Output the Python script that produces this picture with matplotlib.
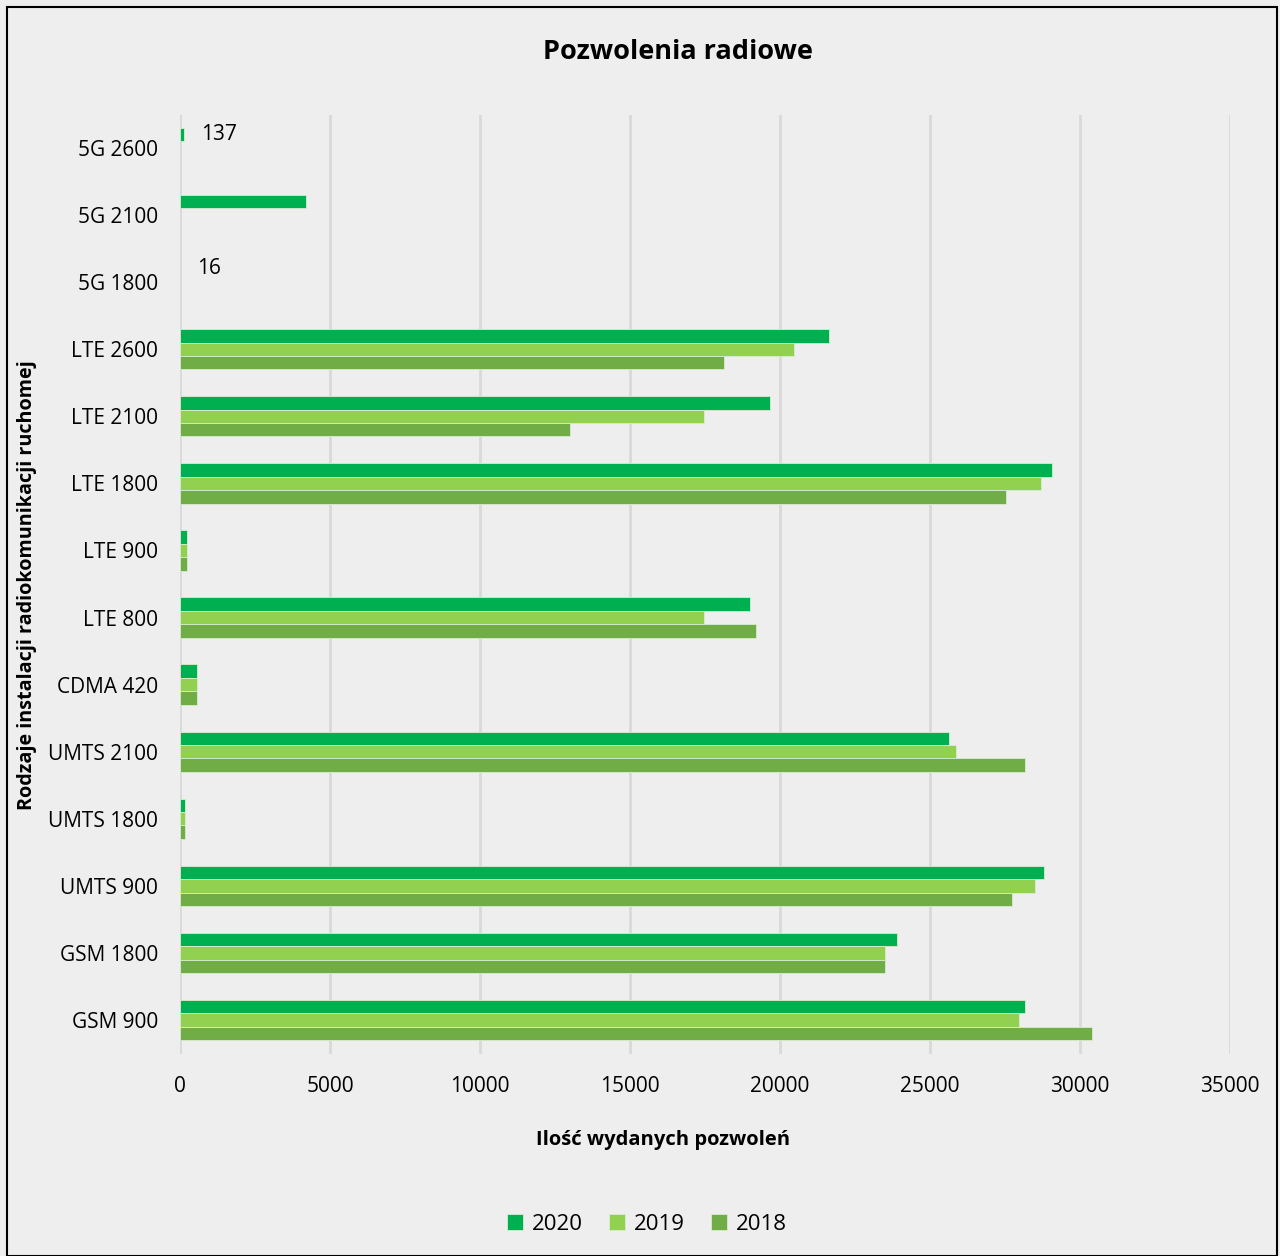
import numpy as np
import matplotlib.pyplot as plt
from matplotlib.patches import Rectangle

categories = ["GSM 900", "GSM 1800", "UMTS 900", "UMTS 1800", "UMTS 2100", "CDMA 420",
              "LTE 800", "LTE 900", "LTE 1800", "LTE 2100", "LTE 2600",
              "5G 1800", "5G 2100", "5G 2600"]
years = ["2020", "2019", "2018"]
vals_2020 = [28150, 23900, 28800, 170, 25630, 570, 19000, 240, 29060, 19670, 21640, 16, 4200, 137]
vals_2019 = [27970, 23500, 28500, 170, 25870, 570, 17480, 240, 28700, 17480, 20470, None, None, None]
vals_2018 = [30400, 23500, 27730, 170, 28160, 570, 19200, 240, 27540, 13000, 18140, None, None, None]
labels_2020 = {"5G 2600": "137", "5G 1800": "16"}

colors = ["#00B050", "#92D050", "#70AD47"]
bg = "#EEEEEE"
font = "Open Sans"
plt.rcParams["font.family"] = [font, "DejaVu Sans"]

fig = plt.figure(figsize=(12.8, 12.56), dpi=100, facecolor=bg)
fig.patches.append(Rectangle((0.0055, 0.0), 0.9925, 0.9945, transform=fig.transFigure,
                             fill=False, edgecolor="black", linewidth=1.5))
ax = fig.add_axes([180 / 1280, 1 - 1053.5 / 1256, 1050 / 1280, 939 / 1256])
ax.set_facecolor(bg)

y = np.arange(len(categories))
h = 0.2
series = [vals_2020, vals_2019, vals_2018]
for i, (vals, col, yr) in enumerate(zip(series, colors, years)):
    offs = (1 - i) * h
    v = np.array([np.nan if x is None else x for x in vals], dtype=float)
    # bars with tiny values (like 16) stay invisible, as in the source
    ew = np.where(v > 50, 0.6, 0.0)
    ax.barh(y + offs, v, height=h, color=col, label=yr,
            edgecolor="#d8ecd0", linewidth=ew, zorder=3)

for cat, txt in labels_2020.items():
    k = categories.index(cat)
    v = vals_2020[k]
    ax.text(v + 550, k + h, txt, va="center", ha="left", fontsize=15, color="black", zorder=4)

ax.set_xlim(0, 35000)
ax.set_ylim(-0.5, len(categories) - 0.5)
ax.set_xticks(np.arange(0, 35001, 5000))
ax.set_yticks(y)
ax.set_yticklabels(categories, fontsize=15)
ax.tick_params(axis="x", labelsize=15, length=0, pad=16)
ax.tick_params(axis="y", length=0, pad=16)
ax.grid(axis="x", color="#D9D9D9", linewidth=2, zorder=0)
for s in ax.spines.values():
    s.set_visible(False)

fig.text(678 / 1280, 1 - 52 / 1256, "Pozwolenia radiowe", ha="center", va="center",
         fontsize=19.5, fontweight="bold")
fig.text(663 / 1280, 1 - 1140 / 1256, "Ilość wydanych pozwoleń", ha="center", va="center",
         fontsize=14.5, fontweight="bold")
fig.text(27 / 1280, 1 - 585 / 1256, "Rodzaje instalacji radiokomunikacji ruchomej", ha="center",
         va="center", rotation=90, fontsize=14.2, fontweight="bold")

fig.legend(loc="center", bbox_to_anchor=(647 / 1280, 1 - 1224 / 1256), ncol=3, frameon=False,
           fontsize=16, handlelength=0.7, handleheight=0.7, columnspacing=1.2, handletextpad=0.4)

fig.savefig("out.png", dpi=100, facecolor=bg)
